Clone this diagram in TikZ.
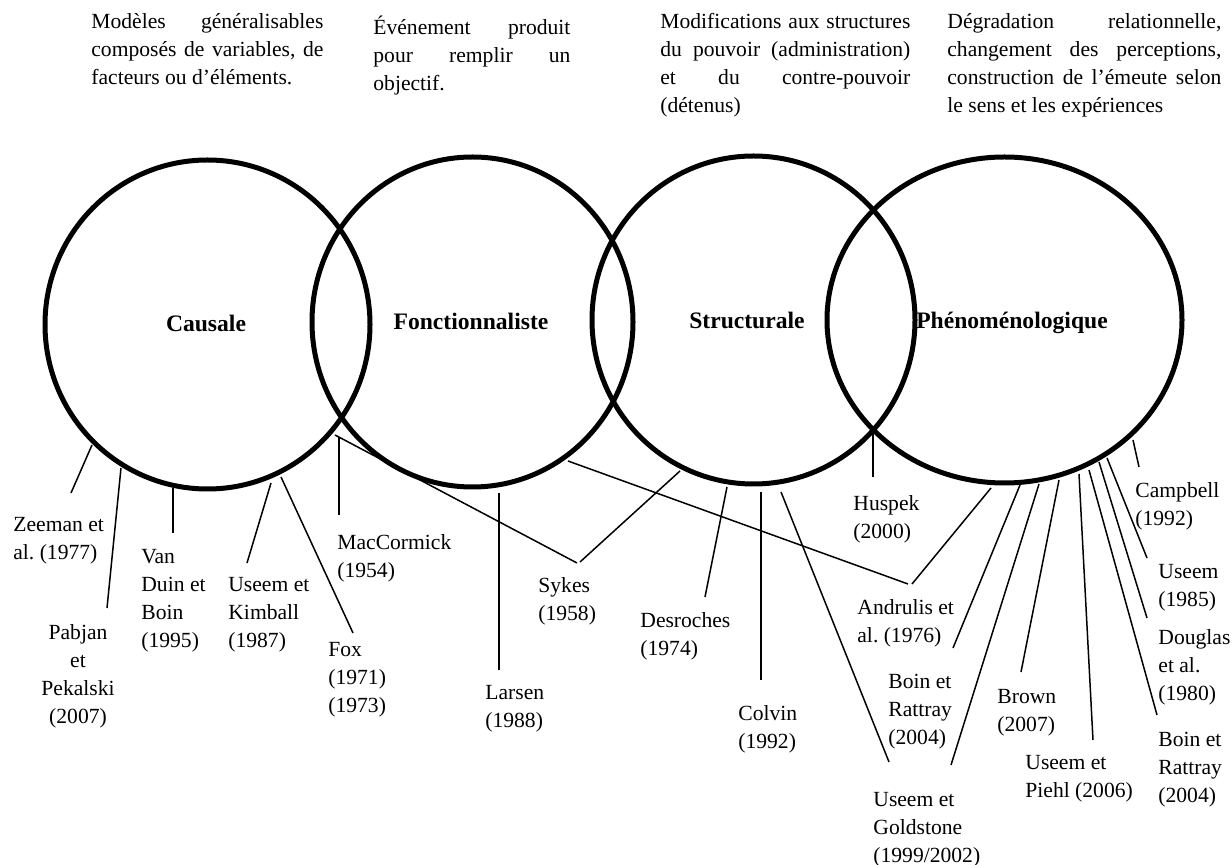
\documentclass[tikz,border=0pt]{standalone}
\usepackage{fontspec}
\setmainfont{Liberation Serif}
\usetikzlibrary{shapes.geometric}

\tikzset{
  venn/.style={ellipse, draw, line width=2.5pt, inner sep=0pt},
  titre/.style={anchor=base, inner sep=0pt,
    font=\fontsize{11.8}{14}\selectfont\bfseries},
  ref/.style={line width=0.75pt},
  auteur/.style={anchor=north west, align=left, inner sep=0pt,
    font=\fontsize{10.8}{14}\selectfont},
  theme/.style={anchor=north west, align=justify, inner sep=0pt,
    font=\fontsize{10.8}{14}\selectfont},
}

\begin{document}
\frenchspacing
\begin{tikzpicture}[x=0.5pt, y=-0.5pt]
            \useasboundingbox (0,0) rectangle (1232,865);

            % les quatre approches
            \node[venn, minimum width=162.5pt, minimum height=164.5pt] (causale) at (207.5,324.5) {};
            \node[venn, minimum width=160.5pt, minimum height=165pt] (fonction) at (472.5,322) {};
            \node[venn, minimum width=161.5pt, minimum height=164pt] (structure) at (753.5,320) {};
            \node[venn, minimum width=177.5pt, minimum height=163pt] (pheno) at (1004.5,320) {};

            \node[titre] (causale-t) at (206,332) {Causale};
            \node[titre] (fonction-t) at (471,330) {Fonctionnaliste};
            \node[titre] (structure-t) at (747,329) {Structurale};
            \node[titre] (pheno-t) at (1012,329) {Phénoménologique};

            % definitions
            \node[theme, text width=116pt] (defcausale) at (91,13) {Modèles généralisables\linebreak composés de variables, de\linebreak facteurs ou d’éléments.};
            \node[theme, text width=98.5pt] (deffonction) at (373,16) {Événement produit\linebreak pour remplir un\linebreak objectif.};
            \node[theme, text width=125pt] (defstructure) at (660,13) {Modifications aux structures\linebreak du pouvoir (administration)\linebreak et du contre-pouvoir\linebreak (détenus)};
            \node[theme, text width=137pt] (defpheno) at (947,13) {Dégradation relationnelle,\linebreak changement des perceptions,\linebreak construction de l’émeute selon\linebreak le sens et les expériences};

            % auteurs
            \node[auteur] (zeeman) at (13,517) {Zeeman et\\al. (1977)};
            \node[auteur, anchor=north, align=center] (pabjan) at (78,624) {Pabjan\\et\\Pekalski\\(2007)};
            \node[auteur] (vanduin) at (141,549) {Van\\Duin et\\Boin\\(1995)};
            \node[auteur] (kimball) at (228,577) {Useem et\\Kimball\\(1987)};
            \node[auteur] (fox) at (328,642) {Fox\\(1971)\\(1973)};
            \node[auteur] (maccormick) at (337,534) {MacCormick\\(1954)};
            \node[auteur] (sykes) at (538,577) {Sykes\\(1958)};
            \node[auteur] (larsen) at (485,685) {Larsen\\(1988)};
            \node[auteur] (desroches) at (640,612) {Desroches\\(1974)};
            \node[auteur] (colvin) at (738,705) {Colvin\\(1992)};
            \node[auteur] (huspek) at (853,495) {Huspek\\(2000)};
            \node[auteur] (andrulis) at (857,599) {Andrulis et\\al. (1976)};
            \node[auteur] (boinA) at (888,674) {Boin et\\Rattray\\(2004)};
            \node[auteur] (goldstone) at (873,792) {Useem et\\Goldstone\\(1999/2002)};
            \node[auteur] (brown) at (997,689) {Brown\\(2007)};
            \node[auteur] (piehl) at (1025,755) {Useem et\\Piehl (2006)};
            \node[auteur] (boinB) at (1158,732) {Boin et\\Rattray\\(2004)};
            \node[auteur] (douglas) at (1158,629) {Douglas\\et al.\\(1980)};
            \node[auteur] (useem) at (1158,564) {Useem\\(1985)};
            \node[auteur] (campbell) at (1135,482) {Campbell\\(1992)};

            % points d'attache
            \coordinate (zeeman-a) at (92,445);    \coordinate (zeeman-b) at (71,493);
            \coordinate (pabjan-a) at (121,468);   \coordinate (pabjan-b) at (107,608);
            \coordinate (vanduin-a) at (173,488);  \coordinate (vanduin-b) at (173,533);
            \coordinate (kimball-a) at (271,483);  \coordinate (kimball-b) at (247,563);
            \coordinate (fox-a) at (281,477);      \coordinate (fox-b) at (353,633);
            \coordinate (mac-a) at (339,437);      \coordinate (mac-b) at (339,515);
            \coordinate (sykes-a) at (335,435);    \coordinate (sykes-b) at (577,563);
            \coordinate (sykes-c) at (680,471);    \coordinate (sykes-d) at (580,562);
            \coordinate (larsen-a) at (499,493);   \coordinate (larsen-b) at (499,670);
            \coordinate (andrulis-a) at (568,461); \coordinate (andrulis-b) at (908,584);
            \coordinate (andrulis-c) at (991,488); \coordinate (andrulis-d) at (912,584);
            \coordinate (desroches-a) at (727,487); \coordinate (desroches-b) at (705,597);
            \coordinate (colvin-a) at (761,492);   \coordinate (colvin-b) at (761,680);
            \coordinate (gold-a) at (781,492);     \coordinate (gold-b) at (889,762);
            \coordinate (gold-c) at (1039,484);    \coordinate (gold-d) at (951,765);
            \coordinate (huspek-a) at (873,430);   \coordinate (huspek-b) at (873,477);
            \coordinate (boinA-a) at (1020,485);   \coordinate (boinA-b) at (953,648);
            \coordinate (brown-a) at (1059,480);   \coordinate (brown-b) at (1021,672);
            \coordinate (piehl-a) at (1079,474);   \coordinate (piehl-b) at (1093,740);
            \coordinate (boinB-a) at (1089,470);   \coordinate (boinB-b) at (1157,715);
            \coordinate (douglas-a) at (1099,462); \coordinate (douglas-b) at (1147,618);
            \coordinate (useem-a) at (1107,458);   \coordinate (useem-b) at (1147,558);
            \coordinate (campbell-a) at (1133,440); \coordinate (campbell-b) at (1139,467);

            \draw[ref] (zeeman-a) -- (zeeman-b);
            \draw[ref] (pabjan-a) -- (pabjan-b);
            \draw[ref] (vanduin-a) -- (vanduin-b);
            \draw[ref] (kimball-a) -- (kimball-b);
            \draw[ref] (fox-a) -- (fox-b);
            \draw[ref] (mac-a) -- (mac-b);
            \draw[ref] (sykes-a) -- (sykes-b);
            \draw[ref] (sykes-c) -- (sykes-d);
            \draw[ref] (larsen-a) -- (larsen-b);
            \draw[ref] (andrulis-a) -- (andrulis-b);
            \draw[ref] (andrulis-c) -- (andrulis-d);
            \draw[ref] (desroches-a) -- (desroches-b);
            \draw[ref] (colvin-a) -- (colvin-b);
            \draw[ref] (gold-a) -- (gold-b);
            \draw[ref] (gold-c) -- (gold-d);
            \draw[ref] (huspek-a) -- (huspek-b);
            \draw[ref] (boinA-a) -- (boinA-b);
            \draw[ref] (brown-a) -- (brown-b);
            \draw[ref] (piehl-a) -- (piehl-b);
            \draw[ref] (boinB-a) -- (boinB-b);
            \draw[ref] (douglas-a) -- (douglas-b);
            \draw[ref] (useem-a) -- (useem-b);
            \draw[ref] (campbell-a) -- (campbell-b);
        \end{tikzpicture}
\end{document}
